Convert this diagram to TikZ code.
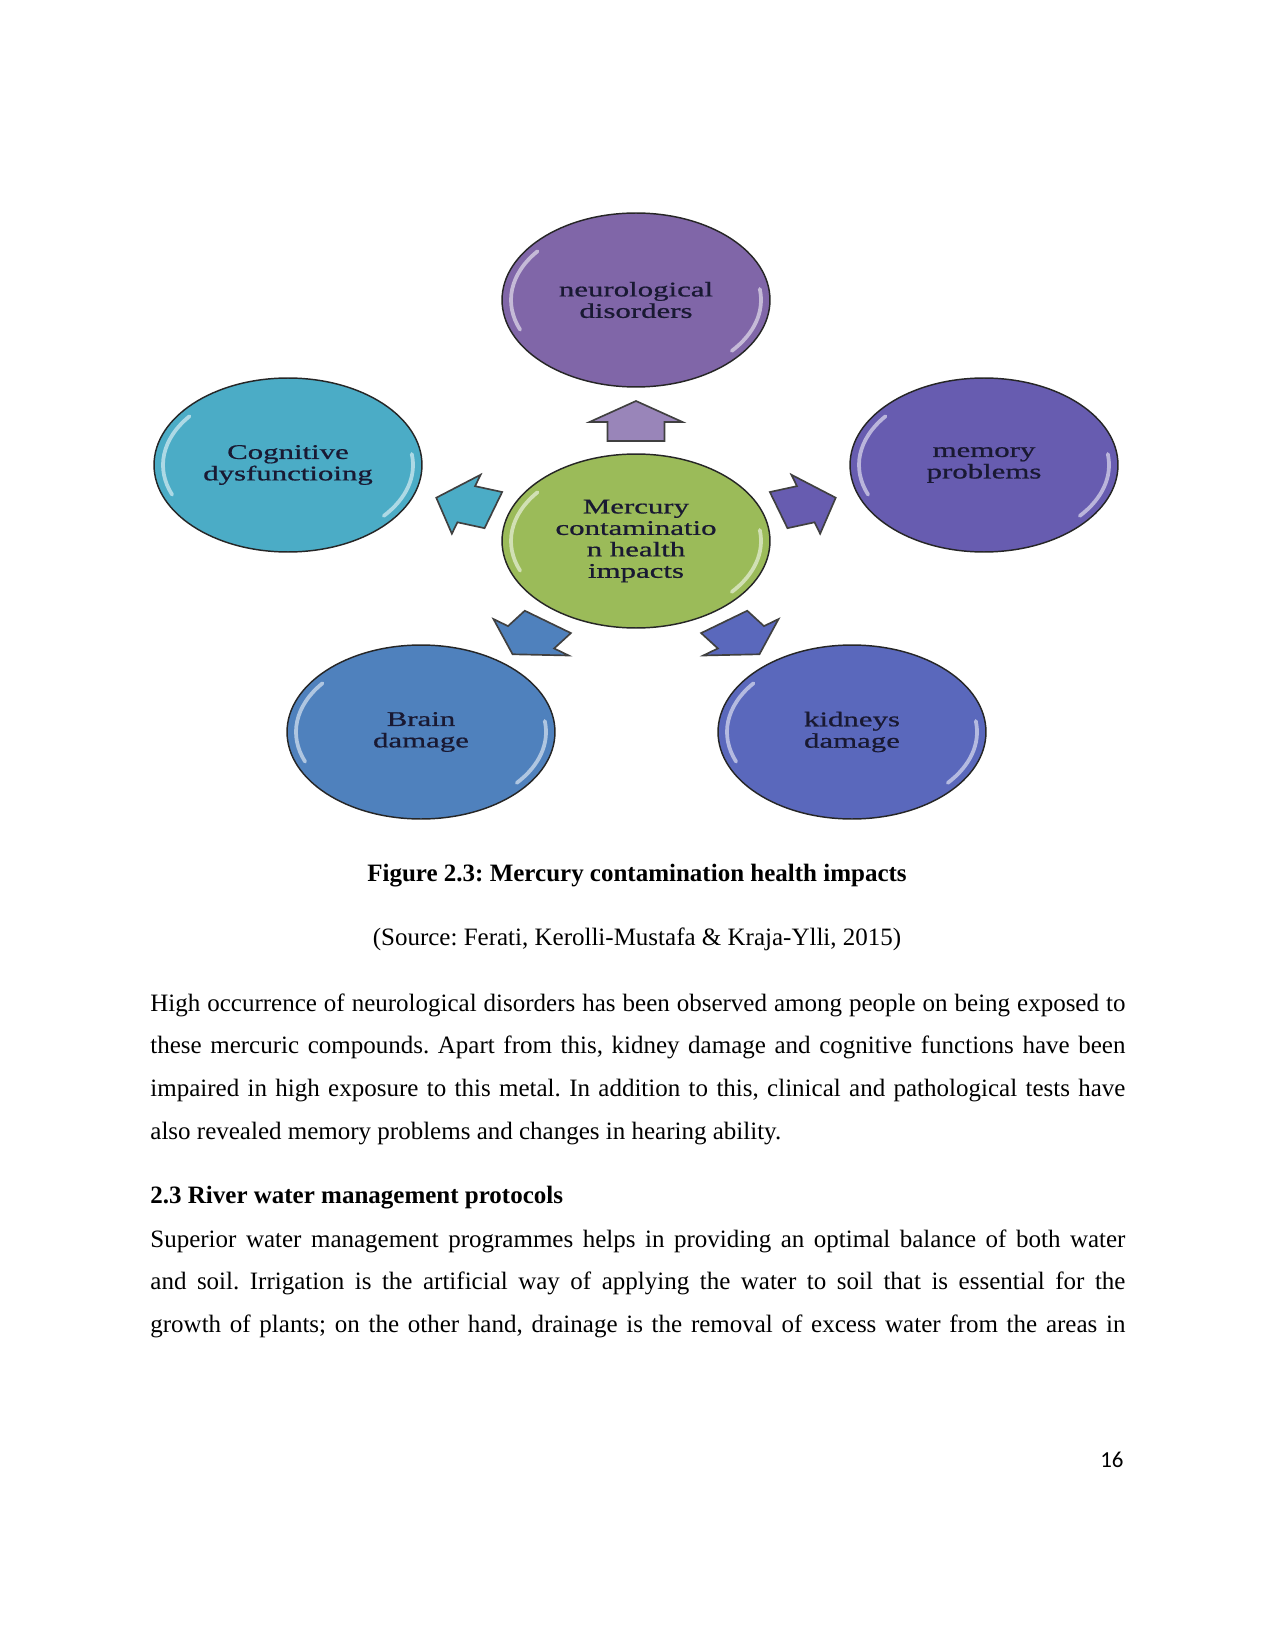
\documentclass[tikz,border=0pt]{standalone}
\usepackage{fontspec}
\setmainfont{Liberation Serif}
\newfontfamily\bubblefont[FakeStretch=1.48, FakeBold=0.8]{Liberation Serif}
\newfontfamily\pagefont{Carlito}
\usetikzlibrary{shapes.geometric}
\frenchspacing

\definecolor{neurocol}{RGB}{128,102,168}
\definecolor{hgcol}{RGB}{155,187,89}
\definecolor{cogcol}{RGB}{75,172,198}
\definecolor{memcol}{RGB}{103,92,176}
\definecolor{braincol}{RGB}{79,129,189}
\definecolor{kidcol}{RGB}{90,104,188}
\definecolor{bubbletext}{RGB}{25,25,50}

\begin{document}
\begin{tikzpicture}[
  x=0.48pt, y=0.48pt,
  bubble/.style = {ellipse, draw=black!85, line width=0.7pt, fill=#1,
                   minimum width=128.6pt, minimum height=83.5pt, inner sep=0pt,
                   align=center, text=bubbletext,
                   font=\bubblefont\fontsize{10}{10.3}\selectfont,
                   path picture={
                     \draw[white, opacity=.55, line width=1.8pt, line cap=round]
                       ([shift={(202:60pt and 38pt)}]path picture bounding box.center)
                       arc[start angle=202, end angle=142, x radius=60pt, y radius=38pt];
                     \draw[white, opacity=.55, line width=1.8pt, line cap=round]
                       ([shift={(8:60pt and 38pt)}]path picture bounding box.center)
                       arc[start angle=8, end angle=-40, x radius=60pt, y radius=38pt];
                   }},
  blockarrow/.style = {draw=black!75, line width=0.8pt, line join=miter},
  para/.style = {text width=468pt, align=justify, inner sep=0pt,
                 font=\fontsize{12}{20.55}\selectfont},
  plain/.style = {inner sep=0pt, font=\fontsize{12}{14}\selectfont},
  plainbold/.style = {inner sep=0pt, font=\fontsize{12}{14}\selectfont\bfseries},
]
\useasboundingbox (0,0) rectangle (1275,-1650);

% -- bubbles --------------------------------------------------------------
\node[bubble=hgcol]    (hg)    at (636,-541) {Mercury\\contaminatio\\n health\\impacts};
\node[bubble=neurocol] (neuro) at (636,-300) {neurological\\disorders};
\node[bubble=cogcol]   (cogn)  at (288,-465) {Cognitive\\dysfunctioing};
\node[bubble=memcol]   (memo)  at (984,-465) {memory\\problems};
\node[bubble=braincol] (brain) at (421,-732) {Brain\\damage};
\node[bubble=kidcol]   (kidn)  at (852,-732) {kidneys\\damage};

% -- block arrows out of the centre -------------------------------------------
\begin{scope}[shift={(hg.center)}, xscale=1.5]
  \foreach \ang/\col in {90/neurocol!80!white, 18/memcol, -54/kidcol,
                         -126/braincol, 162/cogcol}
    \draw[blockarrow, fill=\col, rotate=\ang]
      (100,-19) -- (119,-19) -- (119,-31) -- (140,0) -- (119,31)
      -- (119,19) -- (100,19) -- cycle;
\end{scope}

% -- caption and text ---------------------------------------------------------
\node[plainbold, anchor=base] (cap) at (637,-881)
  {Figure 2.3: Mercury contamination health impacts};
\node[plain, anchor=base] (src) at (637,-945)
  {(Source: Ferati, Kerolli-Mustafa \& Kraja-Ylli, 2015)};

\node[para, anchor=north west] (p1) at (150,-993)
  {High occurrence of neurological disorders has been observed among people on being exposed to\linebreak
   these mercuric compounds. Apart from this, kidney damage and cognitive functions have been\linebreak
   impaired in high exposure to this metal. In addition to this, clinical and pathological tests have\linebreak
   also revealed memory problems and changes in hearing ability.};

\node[plainbold, anchor=base west] (head) at (150,-1203)
  {2.3 River water management protocols};

\node[para, anchor=north west] (p2) at (150,-1229)
  {\parfillskip=0pt Superior water management programmes helps in providing an optimal balance of both water\linebreak
   and soil. Irrigation is the artificial way of applying the water to soil that is essential for the\linebreak
   growth of plants; on the other hand, drainage is the removal of excess water from the areas in\par};

\node[inner sep=0pt, font=\pagefont\fontsize{11}{13}\selectfont, anchor=base east] (pnum) at (1124,-1467) {16};

\end{tikzpicture}
\end{document}
